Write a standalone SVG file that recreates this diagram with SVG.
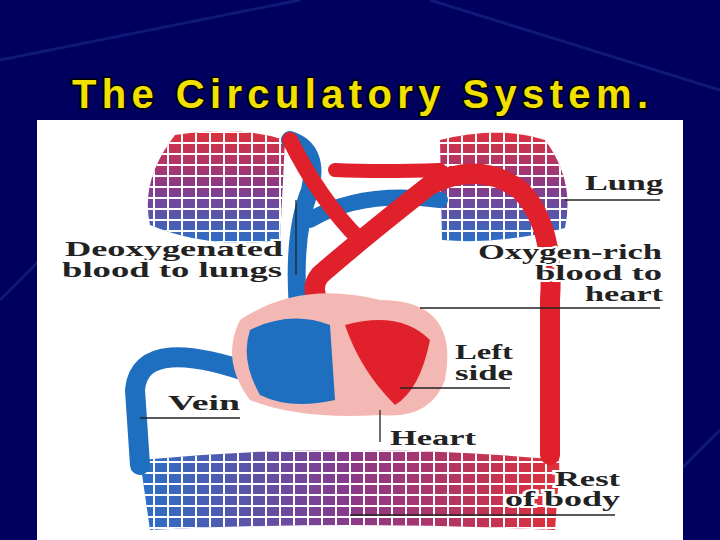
<svg xmlns="http://www.w3.org/2000/svg" width="720" height="540" viewBox="0 0 720 540">
<defs>
<style>
.lab{font-family:"Liberation Serif",serif;font-weight:bold;font-size:20px;fill:#222;stroke:#fff;stroke-width:4;paint-order:stroke}
.ln{stroke:#222;stroke-width:1.3;fill:none}
.red{fill:none;stroke:#e0202a;stroke-linecap:round}
.blue{fill:none;stroke:#1f6fc0;stroke-linecap:round}
</style>
<linearGradient id="lung" x1="0" y1="0" x2="0" y2="1"><stop offset="0" stop-color="#e0303a"/><stop offset="0.5" stop-color="#8a3a8a"/><stop offset="1" stop-color="#2a70c8"/></linearGradient>
<linearGradient id="body" x1="0" y1="0" x2="1" y2="0"><stop offset="0" stop-color="#2a70c8"/><stop offset="0.5" stop-color="#8a3a8a"/><stop offset="1" stop-color="#e0303a"/></linearGradient>
<pattern id="cells" width="14" height="11" patternUnits="userSpaceOnUse"><rect width="14" height="11" fill="none" stroke="#fff" stroke-width="2"/></pattern>
</defs>
<rect width="720" height="540" fill="#00005e"/>
<g stroke="#1a2a8a" stroke-width="3" opacity="0.6">
<line x1="0" y1="60" x2="300" y2="0"/><line x1="430" y1="0" x2="720" y2="90"/><line x1="0" y1="300" x2="40" y2="260"/><line x1="680" y1="470" x2="720" y2="430"/>
</g>
<text x="72" y="108" textLength="576" lengthAdjust="spacing" font-family="Liberation Sans,sans-serif" font-weight="bold" font-size="40" fill="#f2e000" stroke="#000" stroke-width="3" paint-order="stroke">The Circulatory System.</text>
<rect x="37" y="120" width="646" height="420" fill="#fff"/>
<g id="lungs">
<path d="M175 135 Q240 125 285 140 L280 240 Q210 250 150 225 Q140 180 175 135Z" fill="url(#lung)"/>
<path d="M175 135 Q240 125 285 140 L280 240 Q210 250 150 225 Q140 180 175 135Z" fill="url(#cells)"/>
<path d="M440 140 Q500 125 545 140 Q575 180 565 228 Q500 245 442 240Z" fill="url(#lung)"/>
<path d="M440 140 Q500 125 545 140 Q575 180 565 228 Q500 245 442 240Z" fill="url(#cells)"/>
</g>
<g id="body-capillaries">
<path d="M140 460 Q350 440 560 460 L555 530 Q350 520 150 530Z" fill="url(#body)"/>
<path d="M140 460 Q350 440 560 460 L555 530 Q350 520 150 530Z" fill="url(#cells)"/>
</g>
<g id="vessels">
<path class="blue" stroke-width="20" d="M270 380 Q140 330 135 390 L140 465"/>
<path class="blue" stroke-width="18" d="M300 330 Q290 240 310 190 Q320 150 290 140"/>
<path class="blue" stroke-width="16" d="M310 220 Q360 190 440 200"/>
<path class="red" stroke-width="20" d="M355 330 Q300 300 320 275 Q360 240 430 185 Q480 160 520 190 Q555 225 550 300 L550 455"/>
<path class="red" stroke-width="16" d="M290 140 Q320 200 360 240"/>
<path class="red" stroke-width="14" d="M335 170 Q380 172 440 170"/>
</g>
<g id="heart">
<path d="M240 320 Q300 280 380 300 Q460 300 445 380 Q430 420 380 415 Q300 420 250 400 Q220 360 240 320Z" fill="#f4b8b4"/>
<path d="M250 330 Q290 310 330 325 L335 400 Q290 410 260 395 Q240 360 250 330Z" fill="#1f6fc0"/>
<path d="M345 325 Q400 310 430 340 Q420 390 395 405 Q360 370 345 325Z" fill="#e0202a"/>
</g>
<g id="labels">
<text class="lab" x="585" y="190" textLength="78" lengthAdjust="spacingAndGlyphs">Lung</text>
<line class="ln" x1="565" y1="200" x2="660" y2="200"/>
<text class="lab" x="65" y="256" textLength="218" lengthAdjust="spacingAndGlyphs">Deoxygenated</text>
<text class="lab" x="62" y="277" textLength="220" lengthAdjust="spacingAndGlyphs">blood to lungs</text>
<line class="ln" x1="296" y1="200" x2="296" y2="275"/>
<text class="lab" x="478" y="259" textLength="184" lengthAdjust="spacingAndGlyphs">Oxygen-rich</text>
<text class="lab" x="535" y="280" textLength="127" lengthAdjust="spacingAndGlyphs">blood to</text>
<text class="lab" x="585" y="301" textLength="78" lengthAdjust="spacingAndGlyphs">heart</text>
<line class="ln" x1="420" y1="308" x2="660" y2="308"/>
<text class="lab" x="455" y="359" textLength="58" lengthAdjust="spacingAndGlyphs">Left</text>
<text class="lab" x="455" y="380" textLength="58" lengthAdjust="spacingAndGlyphs">side</text>
<line class="ln" x1="400" y1="388" x2="510" y2="388"/>
<text class="lab" x="168" y="410" textLength="72" lengthAdjust="spacingAndGlyphs">Vein</text>
<line class="ln" x1="140" y1="418" x2="240" y2="418"/>
<text class="lab" x="390" y="445" textLength="86" lengthAdjust="spacingAndGlyphs">Heart</text>
<line class="ln" x1="380" y1="410" x2="380" y2="442"/>
<text class="lab" x="555" y="486" textLength="65" lengthAdjust="spacingAndGlyphs">Rest</text>
<text class="lab" x="505" y="506" textLength="115" lengthAdjust="spacingAndGlyphs">of body</text>
<line class="ln" x1="350" y1="515" x2="615" y2="515"/>
</g>
</svg>
